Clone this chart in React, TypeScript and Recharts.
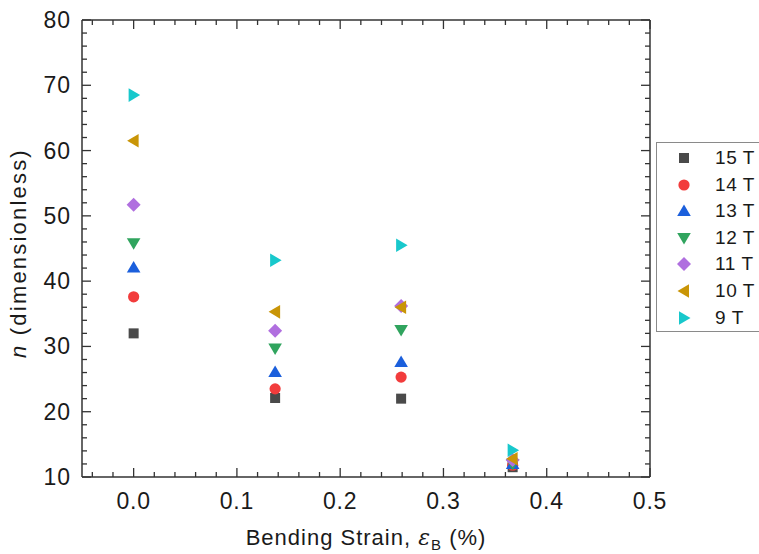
import { ScatterChart, Scatter, XAxis, YAxis } from 'recharts';

// bending strain (%) for the four samples
const strain = [0.0, 0.137, 0.259, 0.367];

const fields = ['15 T', '14 T', '13 T', '12 T', '11 T', '10 T', '9 T'];

// n-values per field, one per strain
const n15T = [32.0, 22.1, 22.0, 11.5];
const n14T = [37.6, 23.5, 25.3, 11.8];
const n13T = [42.1, 26.1, 27.6, 12.0];
const n12T = [45.8, 29.7, 32.5, 12.0];
const n11T = [51.7, 32.4, 36.2, 12.6];
const n10T = [61.5, 35.3, 36.0, 12.8];
const n9T = [68.5, 43.2, 45.5, 14.1];

const xTicks = [
  -0.04, -0.02, 0, 0.02, 0.04, 0.06, 0.08, 0.1, 0.12, 0.14, 0.16, 0.18, 0.2, 0.22, 0.24,
  0.26, 0.28, 0.3, 0.32, 0.34, 0.36, 0.38, 0.4, 0.42, 0.44, 0.46, 0.48, 0.5,
];
const yTicks = [
  10, 12, 14, 16, 18, 20, 22, 24, 26, 28, 30, 32, 34, 36, 38, 40, 42, 44, 46, 48, 50, 52, 54,
  56, 58, 60, 62, 64, 66, 68, 70, 72, 74, 76, 78, 80,
];

const seriesValues = [n15T, n14T, n13T, n12T, n11T, n10T, n9T];
const colors = ['#4a4a4a', '#f23c3c', '#1b5fdc', '#30a45e', '#b06fdf', '#c99507', '#18c8cc'];
const kinds = ['square', 'circle', 'up', 'down', 'diamond', 'left', 'right'];

const AXIS = '#333';
const TEXT = '#1a1a1a';
const FONT = '"Liberation Sans", Arial, sans-serif';
const TINY = 0.0001; // recharts treats 0 as "use default"

const Marker = ({ cx, cy, kind, color }: any) => {
  switch (kind) {
    case 'square':
      return <rect x={cx - 5} y={cy - 5} width={10} height={10} fill={color} />;
    case 'circle':
      return <circle cx={cx} cy={cy} r={5.6} fill={color} />;
    case 'up':
      return <polygon points={`${cx},${cy - 6.5} ${cx + 6.8},${cy + 5} ${cx - 6.8},${cy + 5}`} fill={color} />;
    case 'down':
      return <polygon points={`${cx - 6.8},${cy - 5} ${cx + 6.8},${cy - 5} ${cx},${cy + 6.5}`} fill={color} />;
    case 'diamond':
      return <polygon points={`${cx},${cy - 7} ${cx + 7},${cy} ${cx},${cy + 7} ${cx - 7},${cy}`} fill={color} />;
    case 'left':
      return <polygon points={`${cx - 6.5},${cy} ${cx + 5},${cy - 6.8} ${cx + 5},${cy + 6.8}`} fill={color} />;
    default:
      return <polygon points={`${cx + 6.5},${cy} ${cx - 5},${cy - 6.8} ${cx - 5},${cy + 6.8}`} fill={color} />;
  }
};

const isMajor = (v: number, step: number) => Math.abs(v / step - Math.round(v / step)) < 1e-6;

const XTick = ({ x, y, payload, top }: any) => {
  const v = payload.value;
  const major = isMajor(v, 0.1);
  const len = major ? 9 : 5;
  return (
    <g>
      <line x1={x} x2={x} y1={y} y2={top ? y + len : y - len} stroke={AXIS} strokeWidth={1.3} />
      {!top && major && (
        <text x={x} y={y + 32} textAnchor="middle" fontSize={23} fontFamily={FONT} fill={TEXT} letterSpacing={0.8}>
          {v.toFixed(1)}
        </text>
      )}
    </g>
  );
};

const YTick = ({ x, y, payload, right }: any) => {
  const v = payload.value;
  const major = isMajor(v, 10);
  const len = major ? 9 : 5;
  return (
    <g>
      <line x1={x} x2={right ? x - len : x + len} y1={y} y2={y} stroke={AXIS} strokeWidth={1.3} />
      {!right && major && (
        <text x={x - 11} y={y + 8} textAnchor="end" fontSize={23} fontFamily={FONT} fill={TEXT} letterSpacing={1}>
          {v}
        </text>
      )}
    </g>
  );
};

const XTitle = () => (
  <text x={366} y={545} textAnchor="middle" fontSize={22} fontFamily={FONT} fill={TEXT} letterSpacing={1}>
    Bending Strain,{' '}
    <tspan fontStyle="italic" fontFamily='"DejaVu Serif", serif'>ε</tspan>
    <tspan fontSize={15} dy={5}>B</tspan>
    <tspan dy={-5}> (%)</tspan>
  </text>
);

const YTitle = () => (
  <text
    x={0}
    y={0}
    transform="translate(26,253) rotate(-90)"
    textAnchor="middle"
    fontSize={22}
    fontFamily={FONT}
    fill={TEXT}
    letterSpacing={2.2}
  >
    <tspan fontStyle="italic">n</tspan> (dimensionless)
  </text>
);

const LegendBox = () => (
  <div
    style={{
      position: 'absolute',
      left: 656,
      top: 142,
      width: 130,
      height: 188,
      border: '1px solid #8a8a8a',
      background: '#fff',
      fontFamily: FONT,
    }}
  >
    {fields.map((f, i) => (
      <div
        key={f}
        style={{
          position: 'absolute',
          left: 0,
          top: 15 + i * 26.6 - 13,
          height: 26,
          display: 'flex',
          alignItems: 'center',
        }}
      >
        <svg width={56} height={26} style={{ display: 'block' }}>
          <Marker cx={27} cy={13} kind={kinds[i]} color={colors[i]} />
        </svg>
        <span style={{ fontSize: 19, color: TEXT, marginLeft: 2, letterSpacing: 0.6 }}>{f}</span>
      </div>
    ))}
  </div>
);

export default function App() {
  return (
    <div
      style={{
        position: 'absolute',
        left: 0,
        top: 0,
        width: 759,
        height: 554,
        overflow: 'hidden',
        background: '#fff',
      }}
    >
      <ScatterChart width={759} height={554} margin={{ top: 20, right: 109, bottom: 0, left: 0 }}>
        <XAxis
          type="number"
          dataKey="x"
          domain={[-0.05, 0.5]}
          ticks={xTicks}
          interval={0}
          height={77}
          tickSize={TINY}
          tickMargin={TINY}
          tickLine={false}
          axisLine={{ stroke: AXIS, strokeWidth: 1.5 }}
          tick={<XTick />}
          allowDataOverflow
          label={{ content: () => <XTitle /> }}
        />
        <XAxis
          xAxisId="top"
          orientation="top"
          type="number"
          dataKey="x"
          domain={[-0.05, 0.5]}
          ticks={xTicks}
          interval={0}
          height={TINY}
          tickSize={TINY}
          tickMargin={TINY}
          tickLine={false}
          axisLine={{ stroke: AXIS, strokeWidth: 1.5 }}
          tick={<XTick top />}
          allowDataOverflow
        />
        <YAxis
          type="number"
          dataKey="y"
          domain={[10, 80]}
          ticks={yTicks}
          interval={0}
          width={82}
          tickSize={TINY}
          tickMargin={TINY}
          tickLine={false}
          axisLine={{ stroke: AXIS, strokeWidth: 1.5 }}
          tick={<YTick />}
          allowDataOverflow
          label={{ content: () => <YTitle /> }}
        />
        <YAxis
          yAxisId="right"
          orientation="right"
          type="number"
          dataKey="y"
          domain={[10, 80]}
          ticks={yTicks}
          interval={0}
          width={TINY}
          tickSize={TINY}
          tickMargin={TINY}
          tickLine={false}
          axisLine={{ stroke: AXIS, strokeWidth: 1.5 }}
          tick={<YTick right />}
          allowDataOverflow
        />
        {/* invisible series so the mirrored frame axes get drawn */}
        <Scatter
          xAxisId="top"
          yAxisId="right"
          data={strain.map((s, j) => ({ x: s, y: n15T[j] }))}
          isAnimationActive={false}
          legendType="none"
          shape={() => <g />}
        />
        {fields.map((f, i) => (
          <Scatter
            key={f}
            name={f}
            data={strain.map((s, j) => ({ x: s, y: seriesValues[i][j] }))}
            isAnimationActive={false}
            shape={(p: any) => <Marker cx={p.cx} cy={p.cy} kind={kinds[i]} color={colors[i]} />}
          />
        ))}
      </ScatterChart>
      <LegendBox />
    </div>
  );
}
